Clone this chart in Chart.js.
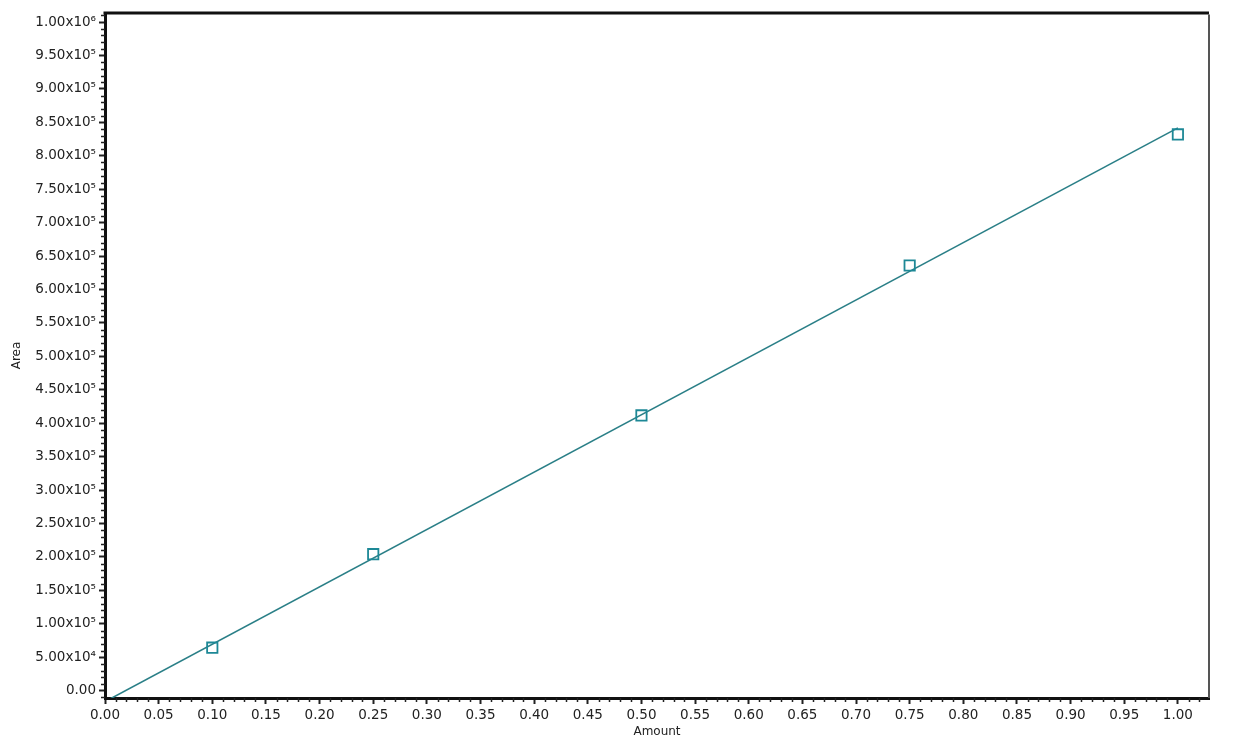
<!DOCTYPE html>
<html>
<head>
<meta charset="utf-8">
<script src="https://cdn.jsdelivr.net/npm/chart.js@4.4.1/dist/chart.umd.min.js"></script>
<style>
  html, body { margin: 0; padding: 0; background: #fff; }
  #wrap { width: 1233px; height: 741px; }
</style>
</head>
<body>
<div id="wrap"><canvas id="calChart"></canvas></div>
<script>
// calibration points (Amount vs Area)
const amounts = [0.10, 0.25, 0.50, 0.75, 1.00];
const areas = [64400, 204200, 411700, 635800, 831900];

// fitted calibration line, ends
const fitAmounts = [0.00, 1.00];
const fitAreas = [-16300, 841700];

const xTickValues = [0, 0.05, 0.10, 0.15, 0.20, 0.25, 0.30, 0.35, 0.40, 0.45, 0.50,
  0.55, 0.60, 0.65, 0.70, 0.75, 0.80, 0.85, 0.90, 0.95, 1.00];
const xTickLabels = ['0.00', '0.05', '0.10', '0.15', '0.20', '0.25', '0.30', '0.35', '0.40', '0.45', '0.50',
  '0.55', '0.60', '0.65', '0.70', '0.75', '0.80', '0.85', '0.90', '0.95', '1.00'];

const yTickValues = [0, 50000, 100000, 150000, 200000, 250000, 300000, 350000, 400000, 450000, 500000,
  550000, 600000, 650000, 700000, 750000, 800000, 850000, 900000, 950000, 1000000];
const yTickLabels = ['0.00', '5.00x10⁴', '1.00x10⁵', '1.50x10⁵', '2.00x10⁵', '2.50x10⁵', '3.00x10⁵',
  '3.50x10⁵', '4.00x10⁵', '4.50x10⁵', '5.00x10⁵', '5.50x10⁵', '6.00x10⁵', '6.50x10⁵', '7.00x10⁵',
  '7.50x10⁵', '8.00x10⁵', '8.50x10⁵', '9.00x10⁵', '9.50x10⁵', '1.00x10⁶'];

const X_MIN = 0, X_MAX = 1.029;
const Y_MIN = -10900, Y_MAX = 1013500;
const X_MINOR = 0.01, Y_MINOR = 10000;

const FONT = "'DejaVu Sans', Verdana, sans-serif";
const INK = '#222222';

// small ticks between the labelled ones, plus top/right frame
const frameAndMinorTicks = {
  id: 'frameAndMinorTicks',
  afterDraw(chart) {
    const { ctx, chartArea: a, scales: { x, y } } = chart;
    ctx.save();
    ctx.strokeStyle = INK;
    ctx.lineWidth = 1.5;
    ctx.beginPath();
    for (let i = 1; i * X_MINOR <= X_MAX; i++) {
      if (i % 5 === 0) continue;
      const px = Math.round(x.getPixelForValue(i * X_MINOR)) + 0.5;
      ctx.moveTo(px, a.bottom);
      ctx.lineTo(px, a.bottom + 4);
    }
    for (let i = -1; i * Y_MINOR <= Y_MAX; i++) {
      if (i % 5 === 0) continue;
      const v = i * Y_MINOR;
      if (v < Y_MIN) continue;
      const py = Math.round(y.getPixelForValue(v)) + 0.5;
      ctx.moveTo(a.left, py);
      ctx.lineTo(a.left - 4, py);
    }
    ctx.stroke();

    ctx.lineWidth = 3;
    ctx.strokeStyle = '#111111';
    ctx.beginPath();
    ctx.moveTo(a.left - 1.5, a.top);
    ctx.lineTo(a.right, a.top);
    ctx.stroke();
    ctx.lineWidth = 2;
    ctx.strokeStyle = '#555555';
    ctx.beginPath();
    ctx.moveTo(a.right, a.top + 1.5);
    ctx.lineTo(a.right, a.bottom);
    ctx.stroke();
    ctx.restore();
  }
};

new Chart(document.getElementById('calChart'), {
  type: 'scatter',
  data: {
    datasets: [
      {
        label: 'Fit',
        data: fitAmounts.map((v, i) => ({ x: v, y: fitAreas[i] })),
        showLine: true,
        borderColor: '#2a7f87',
        borderWidth: 1.6,
        pointRadius: 0,
        order: 2
      },
      {
        label: 'Standards',
        data: amounts.map((v, i) => ({ x: v, y: areas[i] })),
        pointStyle: 'rect',
        pointRadius: 7.3,
        pointBorderWidth: 1.8,
        pointBorderColor: '#1d8896',
        pointBackgroundColor: 'rgba(255,255,255,0)',
        order: 1
      }
    ]
  },
  plugins: [frameAndMinorTicks],
  options: {
    responsive: true,
    maintainAspectRatio: false,
    animation: false,
    layout: { padding: { top: 13, right: 24, left: 0, bottom: 0 } },
    plugins: {
      legend: { display: false },
      tooltip: { enabled: false }
    },
    scales: {
      x: {
        type: 'linear',
        min: X_MIN,
        max: X_MAX,
        afterBuildTicks: s => { s.ticks = xTickValues.map(v => ({ value: v })); },
        afterFit: s => { s.height = 43; },
        ticks: {
          autoSkip: false,
          maxRotation: 0,
          padding: 3,
          color: INK,
          font: { family: FONT, size: 13.5 },
          callback: (v, i) => xTickLabels[i]
        },
        grid: { drawOnChartArea: false, tickLength: 6, tickWidth: 2, tickColor: INK },
        border: { color: '#111111', width: 3 },
        title: {
          display: true,
          text: 'Amount',
          color: INK,
          font: { family: FONT, size: 12 },
          padding: { top: 0, bottom: 2 }
        }
      },
      y: {
        type: 'linear',
        min: Y_MIN,
        max: Y_MAX,
        afterBuildTicks: s => { s.ticks = yTickValues.map(v => ({ value: v })); },
        afterFit: s => { s.width = 105; },
        ticks: {
          autoSkip: false,
          padding: 3,
          color: INK,
          font: { family: FONT, size: 13.5 },
          callback: (v, i) => yTickLabels[i]
        },
        grid: { drawOnChartArea: false, tickLength: 6, tickWidth: 2, tickColor: INK },
        border: { color: '#111111', width: 3 },
        title: {
          display: true,
          text: 'Area',
          color: INK,
          font: { family: FONT, size: 12 },
          padding: { top: 10, bottom: 0 }
        }
      }
    }
  }
});
</script>
</body>
</html>
